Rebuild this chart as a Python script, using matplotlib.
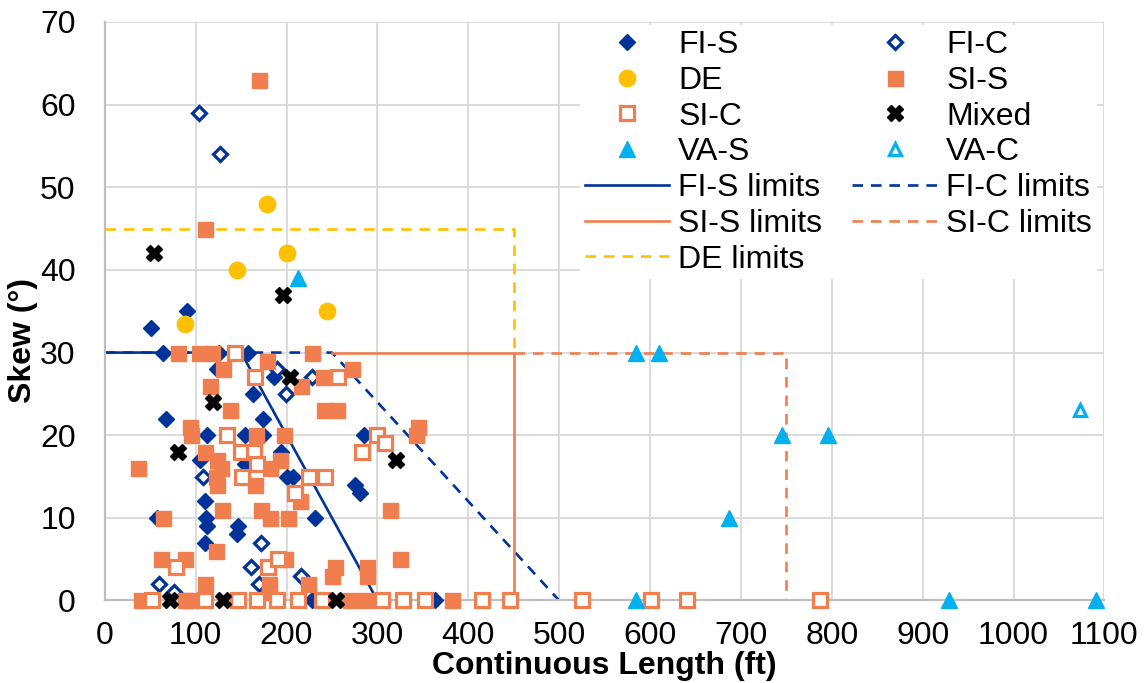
import matplotlib
matplotlib.use('Agg')
import matplotlib.pyplot as plt
from matplotlib.lines import Line2D

plt.rcParams['font.family'] = ['Liberation Sans', 'DejaVu Sans']

#=====================================
# data
# x = continuous length (ft), y = skew (deg)
#=====================================
fis_x = [51, 90, 64, 126, 158, 124, 163, 186, 174, 67, 112, 154, 174, 194, 105,
         110, 111, 113, 110, 147, 145, 231, 200, 207, 154, 57, 275, 281, 285,
         228, 363]
fis_y = [33, 35, 30, 30, 30, 28, 25, 27, 22, 22, 20, 20, 20, 18, 17,
         12, 10, 9, 7, 9, 8, 10, 15, 15, 16.5, 10, 14, 13, 20,
         0, 0]

fic_x = [104, 127, 199, 228, 189, 108, 172, 161, 170, 216, 60, 76]
fic_y = [59, 54, 25, 27, 28, 15, 7, 4, 2, 3, 2, 1]

de_x = [179, 201, 145, 244, 88]
de_y = [48, 42, 40, 35, 33.5]

sis_x = [170, 110, 80, 104, 118, 228, 179, 130, 116, 138, 94, 95, 166, 197, 216,
         240, 272, 241, 256, 345, 343, 314, 325, 253, 250, 288, 289, 224, 182,
         193, 215, 172, 182, 202, 129, 122, 62, 88, 198, 181, 181, 110, 37, 64,
         110, 123, 128, 122, 124, 165, 40, 88, 95, 270, 286, 382]
sis_y = [63, 45, 30, 30, 30, 30, 29, 28, 26, 23, 21, 20, 20, 20, 26,
         27, 28, 23, 23, 21, 20, 11, 5, 4, 3, 4, 3, 2, 16,
         17, 12, 11, 10, 10, 11, 6, 5, 5, 5, 2, 1, 2, 16, 10,
         18, 17, 16, 15, 14, 14, 0, 0, 0, 0, 0, 0]

sic_x = [143, 165, 257, 134, 299, 308, 283, 150, 164, 167, 151, 225, 242, 209,
         180, 191, 78,
         52, 110, 147, 167, 189, 213, 239, 305, 328, 352, 415, 446, 525, 601,
         641, 787]
sic_y = [30, 27, 27, 20, 20, 19, 18, 18, 18, 16.5, 15, 15, 15, 13,
         4, 5, 4,
         0, 0, 0, 0, 0, 0, 0, 0, 0, 0, 0, 0, 0, 0,
         0, 0]

mix_x = [54, 196, 204, 119, 80, 320, 72, 130, 254]
mix_y = [42, 37, 27, 24, 18, 17, 0, 0, 0]

vas_x = [213, 585, 610, 745, 796, 687, 585, 929, 1091]
vas_y = [39, 30, 30, 20, 20, 10, 0, 0, 0]

vac_x = [1073]
vac_y = [23]

# limit envelopes (length, skew)
fis_lim_x = [0, 150, 300]
fis_lim_y = [30, 30, 0]
fic_lim_x = [0, 250, 500]
fic_lim_y = [30, 30, 0]
sis_lim_x = [250, 450, 450]
sis_lim_y = [30, 30, 0]
sic_lim_x = [450, 750, 750]
sic_lim_y = [30, 30, 0]
de_lim_x = [0, 450, 450]
de_lim_y = [45, 45, 30]

#%%
# -------------------------
# styles
# -------------------------
blue = '#003399'
orange = '#F07E4E'
yellow = '#FFC000'
cyan = '#00B0F0'
fs = 23

styles = {
    'FI-S': dict(marker='D', ms=8.0, color=blue, mec=blue),
    'FI-C': dict(marker='D', ms=7.3, color=blue, mfc='white', mec=blue, mew=2.3),
    'DE': dict(marker='o', ms=11.8, color=yellow, mec=yellow),
    'SI-S': dict(marker='s', ms=10.8, color=orange, mec=orange),
    'SI-C': dict(marker='s', ms=9.5, color=orange, mfc='white', mec=orange, mew=2.3),
    'Mixed': dict(marker='X', ms=11.5, color='black', mec='black'),
    'VA-S': dict(marker='^', ms=11.5, color=cyan, mec=cyan),
    'VA-C': dict(marker='^', ms=9.3, color=cyan, mfc='white', mec=cyan, mew=2.3),
}
series = [('FI-S', fis_x, fis_y), ('FI-C', fic_x, fic_y), ('DE', de_x, de_y),
          ('SI-S', sis_x, sis_y), ('SI-C', sic_x, sic_y), ('Mixed', mix_x, mix_y),
          ('VA-S', vas_x, vas_y), ('VA-C', vac_x, vac_y)]

lim_styles = {
    'FI-S limits': dict(color=blue, ls='-', lw=1.9),
    'FI-C limits': dict(color=blue, ls=(0, (4, 3)), lw=1.9),
    'SI-S limits': dict(color=orange, ls='-', lw=1.9),
    'SI-C limits': dict(color=orange, ls=(0, (4, 3)), lw=1.9),
    'DE limits': dict(color=yellow, ls=(0, (4, 3)), lw=1.9),
}
limits = [('FI-S limits', fis_lim_x, fis_lim_y), ('FI-C limits', fic_lim_x, fic_lim_y),
          ('SI-S limits', sis_lim_x, sis_lim_y), ('SI-C limits', sic_lim_x, sic_lim_y),
          ('DE limits', de_lim_x, de_lim_y)]

#%%
fig = plt.figure(figsize=(11.48, 6.83), dpi=100)
ax = fig.add_axes([0.0913, 0.1208, 0.8707, 0.847])

for name, xs, ys in limits:
    ax.plot(xs, ys, zorder=2, **lim_styles[name])

for name, xs, ys in series:
    ax.plot(xs, ys, ls='none', zorder=3, clip_on=False, **styles[name])

ax.set_xlim(0, 1100)
ax.set_ylim(0, 70)
ax.set_xticks(range(0, 1101, 100))
ax.set_yticks(range(0, 71, 10))
ax.grid(True, color='#d9d9d9', lw=1.3, zorder=0)
ax.set_axisbelow(True)
for s in ['top', 'right']:
    ax.spines[s].set_visible(False)
for s in ['left', 'bottom']:
    ax.spines[s].set_color('#bfbfbf')
    ax.spines[s].set_linewidth(1.6)
ax.tick_params(axis='both', length=0, labelsize=fs)
ax.tick_params(axis='x', pad=15)
ax.tick_params(axis='y', pad=21)
ax.set_xlabel('Continuous Length (ft)', fontsize=fs, fontweight='bold', labelpad=0)
ax.set_ylabel('Skew (°)', fontsize=fs, fontweight='bold')
ax.yaxis.set_label_coords(-0.067, 0.45)

# legend: fill column-major so rows read FI-S/FI-C, DE/SI-S, ...
def mk(name):
    return Line2D([], [], ls='none', **styles[name])

def ln(name):
    return Line2D([], [], **lim_styles[name])

col1 = [('FI-S', mk), ('DE', mk), ('SI-C', mk), ('VA-S', mk),
        ('FI-S limits', ln), ('SI-S limits', ln), ('DE limits', ln)]
col2 = [('FI-C', mk), ('SI-S', mk), ('Mixed', mk), ('VA-C', mk),
        ('FI-C limits', ln), ('SI-C limits', ln)]
handles = [f(n) for n, f in col1 + col2]
labels = [n for n, f in col1 + col2]
leg = ax.legend(handles, labels, ncol=2, loc='upper left',
                bbox_to_anchor=(0.505, 0.963), bbox_transform=fig.transFigure,
                fontsize=fs, frameon=True, facecolor='white', edgecolor='none',
                framealpha=1, fancybox=False, borderpad=0.15, borderaxespad=0,
                handlelength=2.65, handletextpad=0.28, columnspacing=0.95,
                labelspacing=0.18)
leg.set_zorder(5)

fig.savefig('out.png', dpi=100)
